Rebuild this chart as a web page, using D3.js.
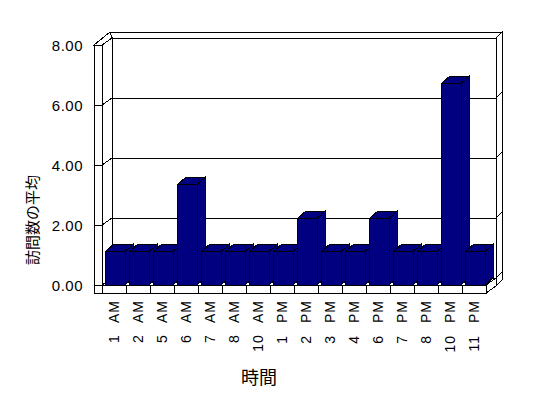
<!DOCTYPE html>
<html>
<head>
<meta charset="utf-8">
<script src="https://cdn.jsdelivr.net/npm/d3@7"></script>
<style>
  body { margin: 0; background: #fff; }
  svg { display: block; }
  .lbl { font-family: "Liberation Sans", Arial, sans-serif; fill: #000; }
  .ttl { font-family: "Noto Sans CJK JP", sans-serif; fill: #000; }
</style>
</head>
<body>
<svg id="chart" width="548" height="398"></svg>
<script>
// data
let categories = ["1 AM", "2 AM", "5 AM", "6 AM", "7 AM", "8 AM", "10 AM", "1 PM",
                  "2 PM", "3 PM", "4 PM", "6 PM", "7 PM", "8 PM", "10 PM", "11 PM"];
let values = [1.12, 1.12, 1.12, 3.35, 1.12, 1.12, 1.12, 1.12,
              2.22, 1.12, 1.12, 2.22, 1.12, 1.12, 6.72, 1.12];
let yTicks = [0, 2, 4, 6, 8];
let yTitle = "訪問数の平均";
let xTitle = "時間";

let svg = d3.select("#chart");

// front plane of the plot, depth offsets for the 3d look
let pLeft = 102, pRight = 486, pBase = 285, pTop = 45;
let dx = 10, dy = -7;        // floor depth to back wall
let tx = 6, ty = -6;         // back wall thickness
let wall = 8;                // left wall / floor thickness
let bdx = 8, bdy = -7;       // bar depth

let x = d3.scaleBand().domain(categories).range([pLeft, pRight]).padding(0);
let y = d3.scaleLinear().domain([0, 8]).range([pBase, pTop]);

let line = d3.line();
function poly(pts, fill) {
    svg.append("path")
        .attr("d", line(pts) + "Z")
        .attr("fill", fill)
        .attr("stroke", "#000")
        .attr("stroke-width", 1)
        .attr("shape-rendering", "crispEdges");
}
function seg(x1, y1, x2, y2) {
    svg.append("line")
        .attr("x1", x1).attr("y1", y1).attr("x2", x2).attr("y2", y2)
        .attr("stroke", "#000")
        .attr("shape-rendering", "crispEdges");
}

// back wall: top face, right side face, front face
poly([[pLeft - wall + dx + tx, pTop + dy + ty], [pRight + dx + tx, pTop + dy + ty],
      [pRight + dx, pTop + dy], [pLeft - wall + dx, pTop + dy]], "#fff");
poly([[pRight + dx, pTop + dy], [pRight + dx + tx, pTop + dy + ty],
      [pRight + dx + tx, pBase + dy + ty + wall], [pRight + dx, pBase + dy + wall]], "#fff");
poly([[pLeft + dx, pTop + dy], [pRight + dx, pTop + dy],
      [pRight + dx, pBase + dy], [pLeft + dx, pBase + dy]], "#fff");

// left wall: top face, inner face, front face
poly([[pLeft - wall, pTop], [pLeft, pTop], [pLeft + dx, pTop + dy],
      [pLeft - wall + dx + tx, pTop + dy + ty]], "#fff");
poly([[pLeft, pTop], [pLeft + dx, pTop + dy], [pLeft + dx, pBase + dy], [pLeft, pBase]], "#fff");
poly([[pLeft - wall, pTop], [pLeft, pTop], [pLeft, pBase + wall], [pLeft - wall, pBase + wall]], "#fff");

// floor: top face, front face, right side
poly([[pLeft, pBase], [pRight, pBase], [pRight + dx, pBase + dy], [pLeft + dx, pBase + dy]], "#fff");
poly([[pLeft, pBase], [pRight, pBase], [pRight, pBase + wall], [pLeft, pBase + wall]], "#fff");
poly([[pRight, pBase], [pRight + dx, pBase + dy], [pRight + dx, pBase + dy + wall], [pRight, pBase + wall]], "#fff");

// gridlines on the walls
yTicks.forEach(function(v) {
    let yy = y(v);
    seg(pLeft - wall, yy, pLeft, yy);
    seg(pLeft, yy, pLeft + dx, yy + dy);
    seg(pLeft + dx, yy + dy, pRight + dx, yy + dy);
    seg(pRight + dx, yy + dy, pRight + dx + tx, yy + dy + ty);
});

// category ticks on the floor front
categories.forEach(function(c, i) {
    if (i > 0) seg(x(c), pBase, x(c), pBase + wall);
});

// bars, left to right so each front hides the previous side
let bw = 19.5, bOff = 3.5;
categories.forEach(function(c, i) {
    let x0 = x(c) + bOff, x1 = x0 + bw, yt = y(values[i]);
    poly([[x1, yt], [x1 + bdx, yt + bdy], [x1 + bdx, pBase + bdy], [x1, pBase]], "#000080");
    poly([[x0, yt], [x1, yt], [x1 + bdx, yt + bdy], [x0 + bdx, yt + bdy]], "#000080");
    poly([[x0, yt], [x1, yt], [x1, pBase], [x0, pBase]], "#000080");
});

// value labels
svg.append("g").selectAll("text")
    .data(yTicks)
    .enter().append("text")
    .attr("class", "lbl")
    .attr("x", 83)
    .attr("y", function(d) { return y(d) + 5.5; })
    .attr("text-anchor", "end")
    .style("font-size", "15px")
    .style("letter-spacing", "0.5px")
    .text(function(d) { return d.toFixed(2); });

// category labels, rotated
svg.append("g").selectAll("text")
    .data(categories)
    .enter().append("text")
    .attr("class", "lbl")
    .attr("transform", function(d) {
        return "translate(" + (x(d) + x.bandwidth() / 2 + 5) + ",300) rotate(-90)";
    })
    .attr("text-anchor", "end")
    .style("font-size", "14px")
    .style("word-spacing", "7px")
    .style("letter-spacing", "1px")
    .text(function(d) { return d; });

// axis titles
svg.append("text")
    .attr("class", "ttl")
    .attr("x", 259)
    .attr("y", 384)
    .attr("text-anchor", "middle")
    .style("font-size", "18px")
    .text(xTitle);

svg.append("text")
    .attr("class", "ttl")
    .attr("transform", "translate(38,220) rotate(-90)")
    .attr("text-anchor", "middle")
    .style("font-size", "15px")
    .text(yTitle);
</script>
</body>
</html>
